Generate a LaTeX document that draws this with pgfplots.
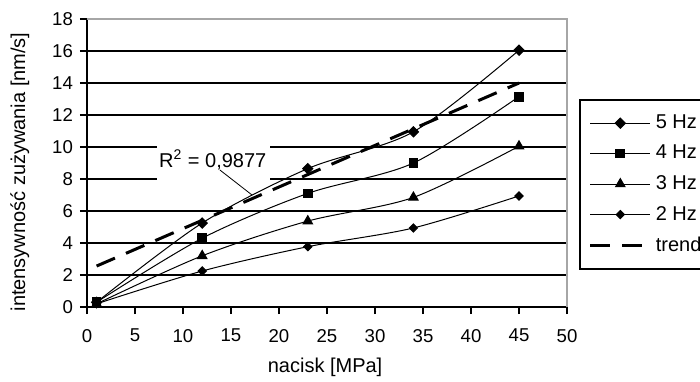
\documentclass[border=0pt]{standalone}
\usepackage{fontspec}
\setmainfont{Liberation Sans}
\usepackage{pgfplots}
\pgfplotsset{compat=1.18}
\begin{document}
\begin{tikzpicture}
\begin{axis}[
  at={(0pt,0pt)}, anchor=south west,
  scale only axis, width=240pt, height=144pt,
  xmin=0, xmax=50, ymin=0, ymax=18,
  xtick={0,5,...,50}, ytick={0,2,...,18},
  axis lines*=left, axis line style={-, black, line width=1pt},
  tick align=outside, tick pos=left, major tick length=3.5pt,
  tick style={black, line width=0.8pt},
  ymajorgrids, grid style={black, line width=0.8pt},
  font=\fontsize{10}{12}\selectfont,
  tick label style={font=\fontsize{9.3}{11}\selectfont},
  xticklabel style={yshift=-4pt},
  /pgf/number format/assume math mode=true,
  xlabel={nacisk [MPa]}, ylabel={intensywność zużywania [nm/s]},
  xlabel style={at={(axis description cs:0.496,-0.208)}, anchor=center},
  ylabel style={at={(axis description cs:-0.14,0.469)}, anchor=center},
  clip=false,
  legend style={at={(axis cs:51.25,13)}, anchor=north west, draw=black, line width=0.8pt,
    inner xsep=4.5pt, inner ysep=5.5pt, row sep=2.8pt, font=\fontsize{10}{12}\selectfont},
  legend cell align=left,
  legend image code/.code={\draw[mark repeat=2,mark phase=2,#1] plot coordinates {(0pt,0pt) (15pt,0pt) (30pt,0pt)};},
]
\fill[white] (axis cs:7.29,7.75) rectangle (axis cs:19.06,10.25);
\draw[gray!70, line width=0.8pt] (rel axis cs:0,1) -- (rel axis cs:1,1) -- (rel axis cs:1,0);
\addplot[black, line width=0.5pt, smooth, mark=square*, mark size=1.8pt, mark options={rotate=45}] coordinates {(1,0.3)(12,5.25)(23,8.65)(34,10.95)(45,16.05)};
\addlegendentry{5 Hz}
\addplot[black, line width=0.5pt, smooth, mark=square*, mark size=2.2pt] coordinates {(1,0.3)(12,4.3)(23,7.1)(34,9.0)(45,13.15)};
\addlegendentry{4 Hz}
\addplot[black, line width=0.5pt, smooth, mark=triangle*, mark size=2.7pt] coordinates {(1,0.2)(12,3.2)(23,5.37)(34,6.85)(45,10.05)};
\addlegendentry{3 Hz}
\addplot[black, line width=0.5pt, smooth, mark=square*, mark size=1.45pt, mark options={rotate=45}] coordinates {(1,0.2)(12,2.25)(23,3.77)(34,4.94)(45,6.94)};
\addlegendentry{2 Hz}
\addplot[black, line width=1.5pt, dash pattern=on 10pt off 6pt, no marks] coordinates {(1,2.56)(45,14.0)};
\addlegendentry{trend}
\node[inner sep=0pt] at (axis cs:13.1,9.19) {R\textsuperscript{2} = 0,9877};
\draw[black, line width=0.4pt] (axis cs:13.85,8.56) -- (axis cs:17.19,7.0);
\end{axis}
\pgfresetboundingbox
\useasboundingbox (-43.5pt,-37pt) rectangle (306.5pt,153.5pt);
\end{tikzpicture}
\end{document}
